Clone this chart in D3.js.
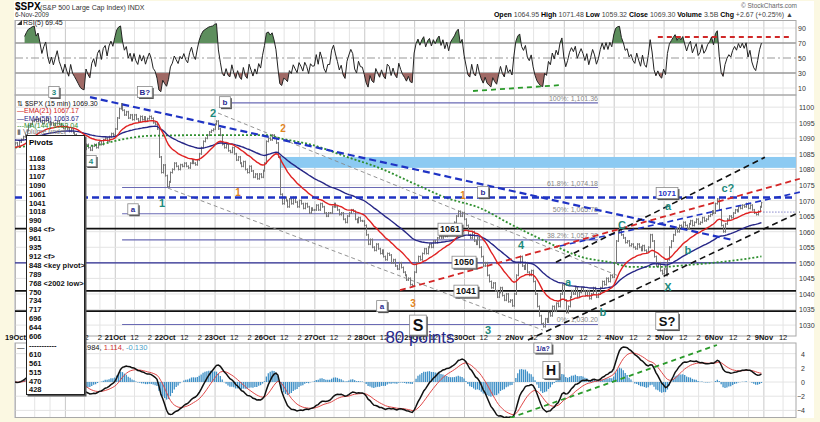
<!DOCTYPE html>
<html lang="en">
<head>
<meta charset="UTF-8">
<title>$SPX 15 min</title>
<style>
  body { margin: 0; background: #fbf8e2; }
  svg { display: block; font-family: Arial, "Liberation Sans", sans-serif; }
</style>
</head>
<body>
<script src="https://cdn.jsdelivr.net/npm/d3@7/dist/d3.min.js"></script>
<script>
// 15 minute closes, one array per session (26 bars from 9:30)
var oct19 = [1088.5, 1087.5, 1088.8, 1089.6, 1090.5, 1091.2, 1092.5, 1094, 1094.6, 1095.5, 1096, 1095.4, 1096.2, 1095.6, 1094.8, 1095.6, 1096.3, 1095.2, 1094.4, 1095, 1094.2, 1094.8, 1095.5, 1094.6, 1094, 1093.2];
var oct20 = [1093.8, 1093, 1092.2, 1093, 1091.8, 1091.2, 1090.5, 1089.5, 1088, 1087, 1086.5, 1088, 1087, 1086.2, 1087.5, 1088, 1087, 1088.5, 1089, 1088, 1089.5, 1090, 1089, 1090.5, 1091.5, 1091.06];
var oct21 = [1093, 1096.5, 1099.5, 1101, 1099, 1097.5, 1098.5, 1096.5, 1097.5, 1096, 1097.5, 1096.2, 1095.5, 1097, 1096, 1096.8, 1095.5, 1096.3, 1097, 1096.4, 1095, 1094.5, 1093, 1084, 1079, 1081.4];
var oct22 = [1078, 1074.5, 1076, 1079, 1080, 1082, 1081, 1080, 1081.5, 1081, 1082, 1081, 1080.5, 1082, 1083, 1082, 1081.5, 1083, 1085, 1087, 1089, 1090, 1091, 1092, 1092.5, 1092.9];
var oct23 = [1094.5, 1095.5, 1093, 1091, 1088, 1087, 1088, 1086, 1085.5, 1087, 1085, 1083, 1084, 1082, 1081, 1082.5, 1080, 1079, 1081, 1079.5, 1077.5, 1078.5, 1077, 1078.5, 1077.5, 1079.6];
var oct26 = [1082, 1089, 1090, 1089.5, 1091, 1090, 1088.5, 1084, 1072, 1069, 1071, 1070, 1068, 1070.5, 1069, 1071, 1069.5, 1068, 1070, 1069, 1067.5, 1069, 1068, 1066, 1067.5, 1066.95];
var oct27 = [1067, 1068.5, 1067, 1069, 1068, 1066, 1065, 1066, 1066, 1068, 1069, 1068, 1067, 1065.5, 1066, 1064, 1063, 1065, 1066, 1067, 1066.5, 1064, 1063, 1064.5, 1063.5, 1063.41];
var oct28 = [1062, 1059, 1056, 1057.5, 1055, 1054, 1056, 1054.5, 1053, 1054, 1052, 1051, 1053, 1052.5, 1050, 1051, 1049, 1048, 1050, 1048.5, 1047, 1046, 1044.5, 1045, 1043, 1042.63];
var oct29 = [1047, 1050, 1052, 1051, 1053, 1054.5, 1053, 1055, 1056, 1055, 1057, 1056.5, 1058, 1059, 1058, 1059.5, 1058.5, 1060, 1059, 1061, 1062, 1063, 1065, 1066.5, 1065, 1066.11];
var oct30 = [1064, 1062, 1059, 1058, 1060, 1057, 1056, 1058, 1055, 1052, 1049, 1050, 1046, 1044, 1042, 1043.5, 1041, 1039, 1040.5, 1042, 1039.5, 1038, 1040, 1037.5, 1038, 1036.19];
var nov2 = [1040, 1046, 1050, 1052, 1049, 1048, 1050, 1047, 1046, 1047.5, 1044, 1040, 1036, 1033, 1030.5, 1029.5, 1032, 1031, 1034, 1033, 1036, 1034.5, 1037, 1036, 1040, 1042.88];
var nov3 = [1038, 1034, 1036, 1039, 1041, 1040, 1042, 1039, 1040.5, 1042, 1041, 1039.5, 1041, 1038.5, 1040, 1042, 1041, 1039, 1040, 1042, 1044, 1043, 1045, 1044, 1046, 1045.41];
var nov4 = [1050, 1057, 1060, 1061, 1059, 1058, 1056.5, 1057, 1055.5, 1056, 1055, 1054.5, 1056, 1055, 1054, 1055.5, 1054, 1053.5, 1055, 1059, 1057, 1052, 1049, 1050, 1047.5, 1046.5];
var nov5 = [1048, 1046, 1051, 1055, 1057, 1059, 1061, 1060, 1062, 1061.5, 1063, 1062, 1061, 1062.5, 1063.5, 1062, 1063, 1064, 1062.5, 1063, 1064.5, 1063.5, 1064, 1065, 1065.5, 1066.6];
var nov6 = [1066, 1069, 1070.5, 1067, 1062, 1060, 1062.5, 1064, 1065, 1064.5, 1066, 1067, 1066.5, 1068, 1067.5, 1068.5, 1068, 1069, 1067.5, 1068.5, 1067, 1066, 1065.5, 1066.5, 1068, 1069.3];
var sessions = [oct19, oct20, oct21, oct22, oct23, oct26, oct27, oct28, oct29, oct30, nov2, nov3, nov4, nov5, nov6];
var firstOpen = 1088;

var dayLabels = ["19Oct", "20Oct", "21Oct", "22Oct", "23Oct", "26Oct", "27Oct", "28Oct", "29Oct", "30Oct", "2Nov", "3Nov", "4Nov", "5Nov", "6Nov", "9Nov"];
var hourLabels = ["12", "2"];
var hourBars = [10, 18];          // bars after the open for 12:00 and 14:00
var barsPerDay = 26;

var priceTicks = [1030, 1035, 1040, 1045, 1050, 1055, 1060, 1065, 1070, 1075, 1080, 1085, 1090, 1095, 1100];
var rsiTicks = [10, 30, 50, 70, 90];
var macdTicks = [-4, -2, 0, 2, 4];

var ema21Start = 1087, ema55Start = 1089.5;
var ma144 = [[0, 1087], [7.8, 1087.5], [36.5, 1087.5], [44.3, 1088], [54.7, 1089.5], [70.3, 1090.8], [96.4, 1091], [131.3, 1091],
  [138.1, 1090], [155.3, 1087.8], [173, 1084], [190.2, 1080.4], [207.4, 1075.6], [225.1, 1070.8], [242.3, 1067.6], [259.5, 1062],
  [277.2, 1056.7], [294.4, 1052], [311.6, 1050], [320.5, 1048.7], [337.7, 1048.7], [350.2, 1049.3], [363.7, 1050], [377.8, 1051], [389, 1052.04]];

var pivots = ["1168", "1133", "1107", "1090", "1061", "1041", "1018", "990", "984 <f>", "961", "935", "912 <f>", "848 <key pivot>",
  "789", "768 <2002  low>", "750", "734", "717", "696", "644", "606", "-----------", "610", "561", "515", "470", "428"];

// drawn levels and trend lines, [bar, value]
var fibLevels = [[100, 1101.36], [61.8, 1074.18], [50, 1065.78], [38.2, 1057.38], [0, 1030.20]];
var fibBars = [55.8, 303.8];
var blackLevels = [1061, 1041, 1034.5];
var navyLevel = 1050;
var keyLevel = 1071;
var resistBand = [1080.5, 1084];
var blueTrend = [[39.1, 1103.2], [374.2, 1057.3]];
var blueRise = [[284, 1055.4], [409, 1072.7]];
var redRise = [[200.6, 1041.2], [409, 1077.0]];
var blackRiseLow = [[267.3, 1025.2], [409, 1066.3]];
var blackRiseHigh = [[281.9, 1050.2], [390.8, 1083.9]];
var grayUpper = [[105.8, 1098.1], [313.7, 1046]];
var grayLower = [[79.7, 1074], [275.1, 1028.4]];
var rsiSupport = [[238.7, 6], [285, 14]];
var rsiResist = [[335, 78], [403.9, 78]];
var macdSupport = [[258, -5.07], [365.8, 5.22]];

// wave labels [bar, price, text]
var tealLabels = [[103.2, 1098.1, "2"], [76.6, 1069.2, "1"], [263.7, 1055.7, "4"], [246.5, 1028.4, "3"], [288.2, 1043.8, "a"],
  [306.4, 1034.2, "b"], [316.3, 1062.1, "C"], [340.3, 1068.2, "a"], [350.7, 1054.1, "b"], [340.3, 1042.2, "X"], [371.5, 1074, "c?"]];
var orangeLabels = [[139.7, 1093.3, "2"], [116.2, 1072.7, "1"], [233.5, 1071.7, "1"], [207.4, 1037.1, "3"]];
var navyBoxes = [[109.4, 1101.6, "b"], [61.5, 1067.2, "a"], [191.2, 1036.1, "a"], [243.9, 1072.7, "b"]];
var levelBoxes = [[226.7, 1060.8, "1061"], [234, 1050.2, "1050"], [235, 1040.9, "1041"]];

var W = 820, H = 422, L = 15, R = 796;

var closes = d3.merge(sessions);
var bars = closes.map(function(c, i) { return {i: i, o: i ? closes[i - 1] : firstOpen, c: c}; });

function ema(vals, period, seed) {
  var k = 2 / (period + 1), prev = seed;
  return vals.map(function(v) { prev = prev + k * (v - prev); return prev; });
}
function rsi(vals, period) {
  var out = [null], g = 0, l = 0;
  for (var i = 1; i < vals.length; i++) {
    var ch = vals[i] - vals[i - 1], up = Math.max(ch, 0), dn = Math.max(-ch, 0);
    if (i <= period) { g += up / period; l += dn / period; }
    else { g = (g * (period - 1) + up) / period; l = (l * (period - 1) + dn) / period; }
    out.push(i < period ? null : (l === 0 ? 100 : 100 - 100 / (1 + g / l)));
  }
  return out;
}
var ema21 = ema(closes, 21, ema21Start);
var ema55 = ema(closes, 55, ema55Start);
var rsi5 = rsi(closes, 5);
var e12 = ema(closes, 12, closes[0]), e26 = ema(closes, 26, closes[0]);
var macd = e12.map(function(v, i) { return v - e26[i]; });
var signal = ema(macd, 9, 0);
var hist = macd.map(function(v, i) { return v - signal[i]; });

var x = d3.scaleLinear().domain([0, 407]).range([L, R]);
var yP = d3.scaleLinear().domain([1026.5, 1103.9]).range([336, 95]);
var yR = d3.scaleLinear().domain([0, 100]).range([95.5, 20.5]);
var yM = d3.scaleLinear().domain([-5, 5.5]).range([417.5, 343]);

var svg = d3.select("body").append("svg").attr("width", W).attr("height", H);
svg.append("rect").attr("width", W).attr("height", H).attr("fill", "#fbf8e2");
svg.append("rect").attr("x", 14).attr("y", 1).attr("width", 800).attr("height", 417).attr("fill", "#fff");

var defs = svg.append("defs");
defs.append("clipPath").attr("id", "cMain").append("rect").attr("x", L).attr("y", 95).attr("width", R - L).attr("height", 241);
defs.append("clipPath").attr("id", "cMacd").append("rect").attr("x", L).attr("y", 343).attr("width", R - L).attr("height", 75);
defs.append("clipPath").attr("id", "cOver").append("rect").attr("x", L).attr("y", 20).attr("width", R - L).attr("height", yR(70) - 20);
defs.append("clipPath").attr("id", "cUnder").append("rect").attr("x", L).attr("y", yR(30)).attr("width", R - L).attr("height", 95.5 - yR(30));

// time ticks
var tickBars = [], tickText = {};
dayLabels.forEach(function(d, k) {
  tickBars.push(k * barsPerDay); tickText[k * barsPerDay] = d;
  hourBars.forEach(function(h, j) {
    var b = k * barsPerDay + h;
    if (b <= 407) { tickBars.push(b); tickText[b] = hourLabels[j]; }
  });
});

// grids
var panels = [[20.5, 95], [95, 336], [343, 417.5]];
panels.forEach(function(p) {
  svg.append("g").selectAll("line").data(tickBars).enter().append("line")
    .attr("x1", function(b) { return x(b) + 0.5; }).attr("x2", function(b) { return x(b) + 0.5; })
    .attr("y1", p[0]).attr("y2", p[1])
    .attr("stroke", function(b) { return b % barsPerDay === 0 ? "#c9c9c9" : "#e4e4e4"; }).attr("stroke-width", 1);
});
svg.append("g").selectAll("line").data(priceTicks).enter().append("line")
  .attr("x1", L).attr("x2", R).attr("y1", function(v) { return yP(v); }).attr("y2", function(v) { return yP(v); })
  .attr("stroke", "#e4e4e4");
svg.append("g").selectAll("line").data(macdTicks).enter().append("line")
  .attr("x1", L).attr("x2", R).attr("y1", function(v) { return yM(v); }).attr("y2", function(v) { return yM(v); })
  .attr("stroke", "#e4e4e4");
svg.append("g").selectAll("line").data(rsiTicks).enter().append("line")
  .attr("x1", L).attr("x2", R).attr("y1", function(v) { return yR(v); }).attr("y2", function(v) { return yR(v); })
  .attr("stroke", function(v) { return v === 70 || v === 30 || v === 50 ? "#999" : "#e4e4e4"; })
  .attr("stroke-width", function(v) { return v === 70 || v === 30 ? 1.4 : 1; })
  .attr("stroke-dasharray", function(v) { return v === 50 ? "8,3,2,3" : null; });

panels.forEach(function(p) {
  svg.append("rect").attr("x", L).attr("y", p[0]).attr("width", R - L).attr("height", p[1] - p[0])
    .attr("fill", "none").attr("stroke", "#a8a8a8");
});

// ---------- RSI panel ----------
var rsiPts = rsi5.map(function(v, i) { return [i, v]; }).filter(function(d) { return d[1] != null; });
var rsiG = svg.append("g");
rsiG.append("path").datum(rsiPts).attr("clip-path", "url(#cOver)").attr("fill", "#5d8e5d")
  .attr("d", d3.area().x(function(d) { return x(d[0]); }).y0(yR(70)).y1(function(d) { return yR(d[1]); }));
rsiG.append("path").datum(rsiPts).attr("clip-path", "url(#cUnder)").attr("fill", "#a06a66")
  .attr("d", d3.area().x(function(d) { return x(d[0]); }).y0(yR(30)).y1(function(d) { return yR(d[1]); }));
rsiG.append("path").datum(rsiPts).attr("fill", "none").attr("stroke", "#222").attr("stroke-width", 1)
  .attr("d", d3.line().x(function(d) { return x(d[0]); }).y(function(d) { return yR(d[1]); }));
var rsiLine = d3.line().x(function(d) { return x(d[0]); }).y(function(d) { return yR(d[1]); });
rsiG.append("path").attr("d", rsiLine(rsiSupport)).attr("stroke", "#2a9a2a").attr("stroke-width", 1.8).attr("stroke-dasharray", "5,4").attr("fill", "none");
rsiG.append("path").attr("d", rsiLine(rsiResist)).attr("stroke", "#d02828").attr("stroke-width", 1.8).attr("stroke-dasharray", "5,4").attr("fill", "none");

// ---------- price panel ----------
var main = svg.append("g");
var pLine = d3.line().x(function(d) { return x(d[0]); }).y(function(d) { return yP(d[1]); });

main.append("rect").attr("x", x(138)).attr("y", yP(resistBand[1])).attr("width", R - x(138))
  .attr("height", yP(resistBand[0]) - yP(resistBand[1])).attr("fill", "#8ccaf2");

fibLevels.forEach(function(f) {
  var b0 = f[0] === 100 ? 113 : fibBars[0];
  main.append("line").attr("x1", x(b0)).attr("x2", x(fibBars[1])).attr("y1", yP(f[1])).attr("y2", yP(f[1]))
    .attr("stroke", "#6a6ab4").attr("stroke-width", 1.1);
  main.append("text").attr("x", x(fibBars[1])).attr("y", yP(f[1]) - 2).attr("text-anchor", "end")
    .attr("font-size", 7).attr("fill", "#888").text(f[0] + "%: " + d3.format(",.2f")(f[1]));
});
main.append("line").attr("x1", L).attr("x2", R).attr("y1", yP(navyLevel)).attr("y2", yP(navyLevel))
  .attr("stroke", "#2a2a90").attr("stroke-width", 1.3);
blackLevels.forEach(function(v) {
  main.append("line").attr("x1", L).attr("x2", R).attr("y1", yP(v)).attr("y2", yP(v))
    .attr("stroke", "#111").attr("stroke-width", 1.6);
});

function dashed(pts, colour, width, dash) {
  main.append("path").attr("d", pLine(pts)).attr("fill", "none").attr("stroke", colour)
    .attr("stroke-width", width).attr("stroke-dasharray", dash);
}
dashed(grayUpper, "#888", 0.9, "4,3");
dashed(grayLower, "#888", 0.9, "4,3");

// bars
main.append("g").attr("clip-path", "url(#cMain)").selectAll("path").data(bars).enter().append("path")
  .attr("d", function(d) {
    var xx = Math.round(x(d.i)) + 0.5, hi = yP(Math.max(d.o, d.c)) - 1, lo = yP(Math.min(d.o, d.c)) + 1;
    return "M" + xx + "," + hi + "V" + lo + "M" + (xx - 1) + "," + yP(d.o) + "H" + xx + "M" + xx + "," + yP(d.c) + "H" + (xx + 1);
  })
  .attr("stroke", "#777").attr("stroke-width", 1).attr("fill", "none");

// averages
var idxLine = function(vals) { return d3.line().x(function(d, i) { return x(i); }).y(function(d) { return yP(d); })(vals); };
main.append("path").attr("d", d3.line().curve(d3.curveMonotoneX).x(function(d) { return x(d[0]); }).y(function(d) { return yP(d[1]); })(ma144))
  .attr("fill", "none").attr("stroke", "#2f8f2f").attr("stroke-width", 1.8).attr("stroke-dasharray", "2,2");
main.append("path").attr("d", idxLine(ema55)).attr("fill", "none").attr("stroke", "#262686").attr("stroke-width", 1.4);
main.append("path").attr("d", idxLine(ema21)).attr("fill", "none").attr("stroke", "#e02222").attr("stroke-width", 1.4);

main.append("line").attr("x1", x(390)).attr("x2", R).attr("y1", yP(1066.3)).attr("y2", yP(1066.3))
  .attr("stroke", "#4a4ab0").attr("stroke-dasharray", "1,2");

// trend lines
main.append("line").attr("x1", L).attr("x2", R).attr("y1", yP(keyLevel)).attr("y2", yP(keyLevel))
  .attr("stroke", "#1f33c4").attr("stroke-width", 2.6).attr("stroke-dasharray", "7,4");
dashed(blueTrend, "#1f33c4", 2.2, "7,4");
dashed(blueRise, "#1f33c4", 1.6, "6,4");
dashed(redRise, "#d42626", 1.8, "6,4");
dashed(blackRiseLow, "#111", 1.6, "6,4");
dashed(blackRiseHigh, "#111", 1.6, "6,4");

// labels
function waveText(list, colour, size) {
  main.selectAll(null).data(list).enter().append("text")
    .attr("x", function(d) { return x(d[0]); }).attr("y", function(d) { return yP(d[1]) + size * 0.36; })
    .attr("text-anchor", "middle").attr("font-size", size).attr("font-weight", "bold")
    .attr("fill", colour).text(function(d) { return d[2]; });
}
waveText(tealLabels, "#1d8a7c", 11);
waveText(orangeLabels, "#e0841e", 10);

function boxed(g, cx, cy, txt, size, colour, padX, padY) {
  var grp = g.append("g");
  var t = grp.append("text").attr("x", cx).attr("y", cy + size * 0.36).attr("text-anchor", "middle")
    .attr("font-size", size).attr("font-weight", "bold").attr("fill", colour).text(txt);
  var w = t.node().getComputedTextLength() + 2 * padX, h = size + 2 * padY;
  grp.insert("rect", "text").attr("x", cx - w / 2 + 1.5).attr("y", cy - h / 2 + 1.5).attr("width", w).attr("height", h).attr("fill", "#555");
  grp.insert("rect", "text").attr("x", cx - w / 2).attr("y", cy - h / 2).attr("width", w).attr("height", h)
    .attr("fill", "#fff").attr("stroke", "#888").attr("stroke-width", 0.8);
}
navyBoxes.forEach(function(d) { boxed(main, x(d[0]), yP(d[1]), d[2], 8, "#2a2a90", 3, 1.5); });
levelBoxes.forEach(function(d) { boxed(main, x(d[0]), yP(d[1]), d[2], 9, "#111", 2, 1.5); });
boxed(main, x(339.8), yP(1072.4), "1071", 8, "#1f33c4", 2, 1.5);
boxed(main, x(39.6), yP(1082.7), "4", 8, "#1d8a7c", 3, 1.5);
boxed(svg, x(20.3), yR(4.7), "3", 8, "#1d8a7c", 3, 1.5);
boxed(svg, x(67.7), yR(4.7), "B?", 8, "#2a2a90", 2, 1.5);
boxed(svg, x(339.8), yP(1031.3), "S?", 13, "#111", 3, 2);

// ---------- MACD panel ----------
var mg = svg.append("g").attr("clip-path", "url(#cMacd)");
mg.selectAll("line").data(hist).enter().append("line")
  .attr("x1", function(d, i) { return x(i); }).attr("x2", function(d, i) { return x(i); })
  .attr("y1", yM(0)).attr("y2", function(d) { return yM(d); })
  .attr("stroke", "#3d8fc6").attr("stroke-width", 1.3);
var mLine = function(vals) { return d3.line().x(function(d, i) { return x(i); }).y(function(d) { return yM(d); })(vals); };
mg.append("path").attr("d", mLine(signal)).attr("fill", "none").attr("stroke", "#e04848").attr("stroke-width", 1);
mg.append("path").attr("d", mLine(macd)).attr("fill", "none").attr("stroke", "#111").attr("stroke-width", 1.5);
mg.append("path").attr("d", d3.line().x(function(d) { return x(d[0]); }).y(function(d) { return yM(d[1]); })(macdSupport))
  .attr("fill", "none").attr("stroke", "#2a9a2a").attr("stroke-width", 1.8).attr("stroke-dasharray", "5,4");
boxed(svg, x(279.3), yM(1.69), "H", 14, "#111", 3, 1.5);
boxed(svg, x(275.1), yM(4.79), "1/a?", 7, "#2a2a90", 2, 1.5);

var mLeg = svg.append("text").attr("x", 17).attr("y", 350).attr("font-size", 7.5);
mLeg.append("tspan").text("\u2014 MACD(12,26,9) 0.984,").attr("fill", "#111");
mLeg.append("tspan").text(" 1.114,").attr("fill", "#d03030");
mLeg.append("tspan").text(" -0.130").attr("fill", "#4aa0c8");

// ---------- axes ----------
function rightAxis(scale, ticks, anchorX, anchor) {
  var g = svg.append("g").attr("transform", "translate(" + anchorX + ",0)")
    .call(d3.axisRight(scale).tickValues(ticks).tickSize(0).tickPadding(0).tickFormat(d3.format("d")));
  g.select(".domain").remove();
  g.selectAll("text").attr("font-size", 7).attr("fill", "#333").attr("font-family", "Arial, sans-serif")
    .attr("text-anchor", anchor).attr("dy", "0.35em");
}
rightAxis(yR, rsiTicks, 798, "start");
rightAxis(yP, priceTicks, 799, "start");
rightAxis(yM, macdTicks, 805, "end");

var xa = svg.append("g").attr("transform", "translate(0,335)")
  .call(d3.axisBottom(x).tickValues(tickBars).tickSize(0).tickPadding(0).tickFormat(function(b) { return tickText[b]; }));
xa.select(".domain").remove();
xa.selectAll("text").attr("font-size", 7.5).attr("fill", "#111").attr("font-family", "Arial, sans-serif")
  .attr("font-weight", function(b) { return b % barsPerDay === 0 ? "bold" : "normal"; }).attr("dy", "0.6em");

// S box and the 80 points note sit over the axis labels
svg.append("text").attr("x", x(211)).attr("y", yP(1026.1) + 6).attr("text-anchor", "middle")
  .attr("font-size", 17).attr("fill", "#26288a").text("80 points");
boxed(svg, x(210), yP(1030), "S", 16, "#111", 3, 2);

// ---------- legends and header ----------
var hd = svg.append("g");
hd.append("text").attr("x", 15).attr("y", 10).attr("font-size", 10).attr("font-weight", "bold").text("$SPX");
hd.append("text").attr("x", 40).attr("y", 10).attr("font-size", 7).attr("fill", "#333").text("(S&P 500 Large Cap Index) INDX");
hd.append("text").attr("x", 15).attr("y", 17).attr("font-size", 6.5).attr("fill", "#333").text("6-Nov-2009");
hd.append("text").attr("x", 797).attr("y", 8).attr("text-anchor", "end").attr("font-size", 6.5).attr("fill", "#666").text("\u00a9 StockCharts.com");
var ohlc = hd.append("text").attr("x", 793).attr("y", 17).attr("text-anchor", "end").attr("font-size", 7);
[["Open ", "1064.95 "], ["High ", "1071.48 "], ["Low ", "1059.32 "], ["Close ", "1069.30 "], ["Volume ", "3.5B "], ["Chg ", "+2.67 (+0.25%) \u25b2"]]
  .forEach(function(p) {
    ohlc.append("tspan").attr("font-weight", "bold").text(p[0]);
    ohlc.append("tspan").attr("fill", "#444").text(p[1]);
  });
hd.append("path").attr("d", "M17,25 L22,20 L22,25 Z").attr("fill", "#333");
hd.append("text").attr("x", 23).attr("y", 25).attr("font-size", 7).attr("fill", "#222").text("RSI(5) 69.45");

var legend = [["\u21c5 $SPX (15 min) 1069.30", "#111", 106], ["\u2014EMA(21) 1067.17", "#d02020", 113],
  ["\u2014EMA(55) 1063.67", "#262686", 121], ["---MA(144) 1052.04", "#2f8f2f", 128], ["\u25ae Volume undef", "#777", 134]];
legend.forEach(function(l) {
  svg.append("text").attr("x", 17).attr("y", l[2]).attr("font-size", 7).attr("fill", l[1]).text(l[0]);
});

// pivots box
var pb = svg.append("g");
pb.append("rect").attr("x", 27.5).attr("y", 136.5).attr("width", 59).attr("height", 260).attr("fill", "#555");
pb.append("rect").attr("x", 26.5).attr("y", 135.5).attr("width", 58).attr("height", 259).attr("fill", "#fff").attr("stroke", "#222");
pb.append("text").attr("x", 29).attr("y", 145).attr("font-size", 8).attr("font-weight", "bold").text("Pivots");
pb.selectAll("text.pv").data(pivots).enter().append("text").attr("class", "pv")
  .attr("x", 29).attr("y", function(d, i) { return 161 + i * 8.9; })
  .attr("font-size", 7.5).attr("font-weight", "bold").attr("fill", "#111").text(function(d) { return d; });
</script>
</body>
</html>
